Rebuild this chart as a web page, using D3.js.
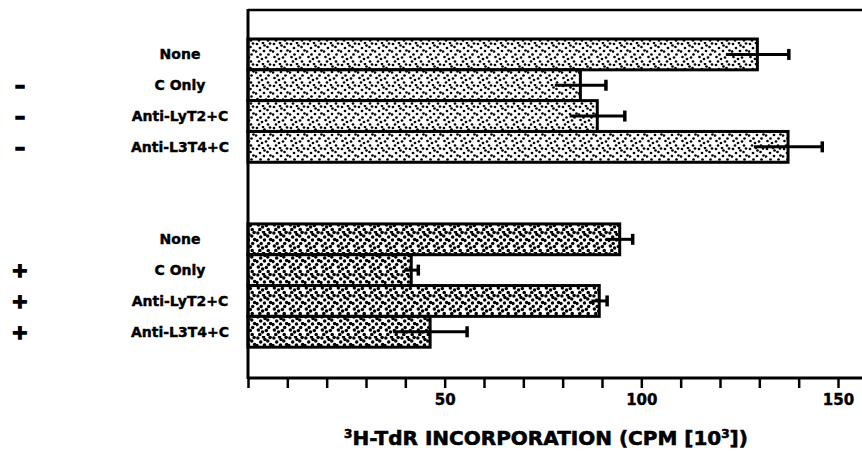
<!DOCTYPE html>
<html>
<head>
<meta charset="utf-8">
<script src="https://cdn.jsdelivr.net/npm/d3@7"></script>
<style>
body { margin: 0; background: white; }
text { font-family: "DejaVu Sans", sans-serif; font-weight: bold; fill: black; }
</style>
</head>
<body>
<div class="chart"></div>
<script>
// data
var treatments = ["None", "C Only", "Anti-LyT2+C", "Anti-L3T4+C"];
var groups = ["-", "+"];
var minusValues = [129.5, 84.5, 88.8, 137.3];
var minusErrors = [8, 6.5, 7, 8.7];
var plusValues = [94.5, 41.5, 89.3, 46.3];
var plusErrors = [3.3, 1.8, 2, 9.4];
var tickValues = d3.range(0, 151, 10);
var tickLabels = [50, 100, 150];

var width = 862, height = 452;
var svg = d3.select(".chart").append("svg").attr("width", width).attr("height", height);

// rows: 4 bars, 2 blank, 4 bars, 1 blank
var rows = [];
groups.forEach(function(g, gi){
  var vals = gi == 0 ? minusValues : plusValues;
  var errs = gi == 0 ? minusErrors : plusErrors;
  treatments.forEach(function(t, ti){
    rows.push({key: g + t, group: g, gi: gi, name: t, ti: ti, value: vals[ti], err: errs[ti]});
  });
  if (gi == 0) { rows.push({key: "gap1"}); rows.push({key: "gap2"}); }
});
rows.push({key: "gap3"});
var bars = rows.filter(function(d){ return d.value != null; });

var x = d3.scaleLinear().domain([0, 150]).range([248, 838]);
var y = d3.scaleBand().domain(rows.map(function(d){ return d.key; })).range([39, 378]).padding(0);

// stipple patterns (fixed dot layout in one tile)
var defs = svg.append("defs");
var dots = [[2,2],[8,1],[12.5,5],[5,6],[1,9.5],[9,9],[13.5,12.5],[5.5,12.5],[9.5,3.5],[2.5,15],[11,15.5],[7,17],[15.5,8.5],[15,1.5],[4,19.5],[13,19.5]];
[["dotsA", 1.35, 17], ["dotsB", 1.75, 16]].forEach(function(p){
  var pat = defs.append("pattern").attr("id", p[0]).attr("patternUnits", "userSpaceOnUse")
    .attr("width", p[2]).attr("height", 21);
  pat.append("rect").attr("width", p[2]).attr("height", 21).attr("fill", "white");
  dots.forEach(function(d){
    pat.append("circle").attr("cx", d[0] * p[2] / 17).attr("cy", d[1]).attr("r", p[1]).attr("fill", "black");
  });
});

svg.selectAll(".bar").data(bars).enter().append("rect")
  .attr("class", "bar")
  .attr("x", x(0))
  .attr("y", function(d){ return y(d.key); })
  .attr("width", function(d){ return x(d.value) - x(0); })
  .attr("height", y.bandwidth())
  .attr("fill", function(d){ return d.gi == 0 ? "url(#dotsA)" : "url(#dotsB)"; })
  .attr("stroke", "black").attr("stroke-width", 3);

// error bars
svg.selectAll(".err").data(bars).enter().append("line")
  .attr("x1", function(d){ return x(d.value - d.err); })
  .attr("x2", function(d){ return x(d.value + d.err); })
  .attr("y1", function(d){ return y(d.key) + y.bandwidth() / 2; })
  .attr("y2", function(d){ return y(d.key) + y.bandwidth() / 2; })
  .attr("stroke", "black").attr("stroke-width", 3);
svg.selectAll(".cap").data(bars).enter().append("line")
  .attr("x1", function(d){ return x(d.value + d.err); })
  .attr("x2", function(d){ return x(d.value + d.err); })
  .attr("y1", function(d){ return y(d.key) + y.bandwidth() / 2 - 5.5; })
  .attr("y2", function(d){ return y(d.key) + y.bandwidth() / 2 + 5.5; })
  .attr("stroke", "black").attr("stroke-width", 3.5);

// row labels
svg.selectAll(".lab").data(bars).enter().append("text")
  .attr("x", 180)
  .attr("y", function(d){ return y(d.key) + y.bandwidth() / 2 + 5; })
  .attr("text-anchor", "middle").style("font-size", "14px")
  .attr("stroke", "black").attr("stroke-width", 0.4)
  .text(function(d){ return d.name; });
svg.selectAll(".sign").data(bars.filter(function(d){ return d.ti > 0; })).enter().append("text")
  .attr("x", 20)
  .attr("y", function(d){ return y(d.key) + y.bandwidth() / 2 + 7; })
  .attr("text-anchor", "middle").style("font-size", "20px")
  .attr("stroke", "black").attr("stroke-width", 1.6)
  .text(function(d){ return d.group == "-" ? "\u2013" : "+"; });

// frame: top line, left line
svg.append("line").attr("x1", x(0)).attr("x2", width).attr("y1", 10).attr("y2", 10)
  .attr("stroke", "black").attr("stroke-width", 2.5);
svg.append("line").attr("x1", x(0)).attr("x2", x(0)).attr("y1", 9).attr("y2", 379)
  .attr("stroke", "black").attr("stroke-width", 3);

// x axis
var axis = svg.append("g").attr("transform", "translate(0,378)")
  .call(d3.axisBottom(x).tickValues(tickValues).tickSize(10).tickPadding(6)
    .tickFormat(function(d){ return tickLabels.indexOf(d) >= 0 ? d : ""; }));
axis.select(".domain").remove();
axis.append("line").attr("x1", x(0)).attr("x2", width).attr("stroke", "black").attr("stroke-width", 3);
axis.selectAll(".tick line").attr("stroke", "black").attr("stroke-width", 2.5);
axis.selectAll(".tick text").style("font-size", "15px").style("font-family", "DejaVu Sans")
  .style("font-weight", "bold").attr("stroke", "black").attr("stroke-width", 0.4);

var title = svg.append("text").attr("x", 546).attr("y", 445).attr("text-anchor", "middle")
  .style("font-size", "20px").attr("stroke", "black").attr("stroke-width", 0.6);
title.append("tspan").attr("dy", -7).style("font-size", "12px").text("3");
title.append("tspan").attr("dy", 7).text("H-TdR INCORPORATION (CPM [10");
title.append("tspan").attr("dy", -7).style("font-size", "12px").text("3");
title.append("tspan").attr("dy", 7).text("])");
</script>
</body>
</html>
